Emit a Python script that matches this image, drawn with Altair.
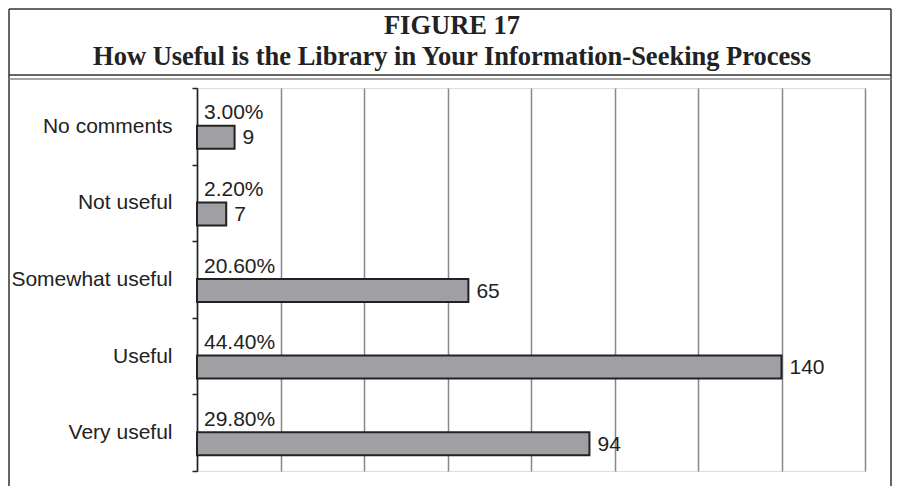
import altair as alt
import pandas as pd

categories = ["No comments", "Not useful", "Somewhat useful", "Useful", "Very useful"]
counts = [9, 7, 65, 140, 94]
percents = ["3.00%", "2.20%", "20.60%", "44.40%", "29.80%"]
x_ticks = [0, 20, 40, 60, 80, 100, 120, 140, 160]
title_lines = ["FIGURE 17", "How Useful is the Library in Your Information-Seeking Process"]

df = pd.DataFrame({"cat": categories, "count": counts, "pct": percents})

W, H = 668, 383
PAD = {"left": 189, "top": 80, "right": 27, "bottom": 15}

xs = alt.X("count:Q", scale=alt.Scale(domain=[0, 160], nice=False),
           axis=alt.Axis(values=x_ticks, grid=True, gridColor="#888", gridWidth=1.5,
                         labels=False, ticks=False, domain=False, title=None))
ys = alt.Y("cat:N", sort=categories,
           scale=alt.Scale(paddingInner=0, paddingOuter=0),
           axis=alt.Axis(title=None, domain=True, domainColor="#222", domainWidth=1.5,
                         ticks=True, tickBand="extent", tickSize=5, tickColor="#222",
                         tickWidth=1.5, labelPadding=20, labelFontSize=21,
                         labelFont="Liberation Sans", labelColor="#222", grid=False))

base = alt.Chart(df)

bars = base.mark_bar(size=23, yOffset=11, fill="#a0a0a4", stroke="#222",
                     strokeWidth=2).encode(x=xs, y=ys)

pct_text = base.mark_text(align="left", baseline="middle", dy=-13, fontSize=21,
                          font="Liberation Sans", color="#222").encode(
    x=alt.value(7), y=alt.Y("cat:N", sort=categories), text="pct:N")

cnt_text = base.mark_text(align="left", baseline="middle", dx=8, dy=12, fontSize=21,
                          font="Liberation Sans", color="#222").encode(
    x="count:Q", y=alt.Y("cat:N", sort=categories), text="count:Q")

tdf = pd.DataFrame({"t": title_lines, "yy": [-62, -31]})
titles = alt.Chart(tdf).mark_text(align="center", baseline="middle", fontSize=26.5,
                                  font="Liberation Serif", fontWeight="bold",
                                  color="#222").encode(
    x=alt.value(255), y=alt.Y("yy:Q", scale=None), text="t:N")

frame_df = pd.DataFrame({
    "x1": [-188, -188, 694, -188, -188],
    "x2": [694, -188, 694, 694, 694],
    "y1": [-79, -79, -79, -13, -9],
    "y2": [-79, 398, 398, -13, -9],
    "c": ["#333", "#333", "#333", "#333", "#888"],
})
frame = alt.Chart(frame_df).mark_rule(strokeWidth=1.5, clip=False).encode(
    x=alt.X("x1:Q", scale=None), x2="x2:Q",
    y=alt.Y("y1:Q", scale=None), y2="y2:Q",
    color=alt.Color("c:N", scale=None))

chart = alt.layer(bars, pct_text, cnt_text, titles, frame).properties(
    width=W, height=H, padding=PAD,
    autosize=alt.AutoSizeParams(type="none"),
).configure_view(stroke="#999", strokeWidth=2).configure(background="white")

chart.save("out.html", embed_options={"renderer": "svg", "actions": False})
